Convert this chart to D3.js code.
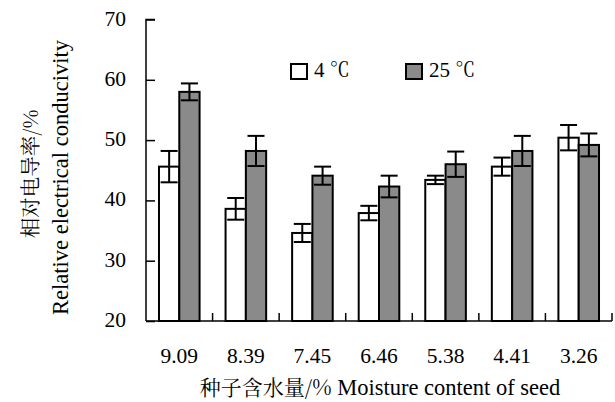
<!DOCTYPE html>
<html><head><meta charset="utf-8">
<script src="https://cdn.jsdelivr.net/npm/d3@7"></script>
<style>body{margin:0;background:#fff}svg{display:block}</style>
</head><body>
<svg id="c" width="615" height="402"></svg>
<script>
const categories = ["9.09","8.39","7.45","6.46","5.38","4.41","3.26"];
const seriesNames = ["4","25"];
const unit = "℃";
const values4 = [45.6, 38.6, 34.6, 37.9, 43.4, 45.6, 50.4];
const err4 = [2.6, 1.8, 1.5, 1.2, 0.7, 1.5, 2.1];
const values25 = [58.0, 48.2, 44.1, 42.3, 46.0, 48.2, 49.2];
const err25 = [1.4, 2.5, 1.5, 1.8, 2.1, 2.5, 1.9];
const yTicks = [20,30,40,50,60,70];
const colors = ["#ffffff","#8a8a8a"];

const SERIF = '"Liberation Serif"';
const CJK = '"Noto Serif CJK SC"';
const svg = d3.select("#c");
const L = 146, R = 612, T = 19.5, B = 321;
const x = d3.scaleBand().domain(categories).range([L, R]).padding(0);
const xs = d3.scaleBand().domain([0,1]).range([0, x.bandwidth()]).paddingInner(0).paddingOuter(0.64);
const y = d3.scaleLinear().domain([20,70]).range([B, T]);

const data = categories.map((c,i)=>[
  {c, s:0, v:values4[i], e:err4[i]},
  {c, s:1, v:values25[i], e:err25[i]}
]).flat();

svg.append("g").selectAll("rect").data(data).join("rect")
  .attr("x", d=>x(d.c)+xs(d.s))
  .attr("y", d=>y(d.v))
  .attr("width", xs.bandwidth())
  .attr("height", d=>B-y(d.v))
  .attr("fill", d=>colors[d.s])
  .attr("stroke","#000").attr("stroke-width",2);

const eg = svg.append("g").attr("stroke","#000").attr("stroke-width",2).attr("fill","none");
data.forEach(d=>{
  const cx = x(d.c)+xs(d.s)+xs.bandwidth()/2;
  const hw = 8.5;
  eg.append("line").attr("x1",cx).attr("x2",cx).attr("y1",y(d.v+d.e)).attr("y2",y(d.v-d.e));
  eg.append("line").attr("x1",cx-hw).attr("x2",cx+hw).attr("y1",y(d.v+d.e)).attr("y2",y(d.v+d.e));
  eg.append("line").attr("x1",cx-hw).attr("x2",cx+hw).attr("y1",y(d.v-d.e)).attr("y2",y(d.v-d.e));
});

const yAxis = d3.axisRight(y).tickValues(yTicks).tickSize(9).tickFormat("");
const ya = svg.append("g").attr("transform",`translate(${L},0)`).call(yAxis);
ya.select(".domain").attr("stroke","#000").attr("stroke-width",1.5).attr("d",`M9,${T}H0V${B}`);
ya.selectAll(".tick line").attr("stroke","#000").attr("stroke-width",1.5);
svg.append("g").selectAll("text").data(yTicks).join("text")
  .attr("x",126).attr("y",d=>y(d)+6).attr("text-anchor","end")
  .style("font-family",SERIF).style("font-size","21.5px").text(d=>d);

const xa = svg.append("g").attr("transform",`translate(0,${B})`);
xa.append("line").attr("x1",L).attr("x2",R).attr("stroke","#000").attr("stroke-width",1.5);
xa.selectAll("line.tk").data(categories).join("line").attr("class","tk")
  .attr("x1",d=>x(d)+x.bandwidth()).attr("x2",d=>x(d)+x.bandwidth())
  .attr("y1",0).attr("y2",-8).attr("stroke","#000").attr("stroke-width",1.5);
svg.append("g").selectAll("text").data(categories).join("text")
  .attr("x",d=>x(d)+x.bandwidth()/2).attr("y",363).attr("text-anchor","middle")
  .style("font-family",SERIF).style("font-size","21.5px").text(d=>d);

const xt = svg.append("text").attr("x",380).attr("y",395).attr("text-anchor","middle")
  .style("font-family",SERIF).style("font-size","22.5px");
xt.append("tspan").style("font-family",CJK).style("font-size","21px").text("种子含水量/%");
xt.append("tspan").text("  Moisture content of seed");

svg.append("text").attr("transform","translate(38,174) rotate(-90)").attr("text-anchor","middle")
  .style("font-family",CJK).style("font-size","20.5px").text("相对电导率/%");
svg.append("text").attr("transform","translate(68,177.5) rotate(-90)").attr("text-anchor","middle")
  .style("font-family",SERIF).style("font-size","22.5px").text("Relative electrical conducivity");

const lg = svg.append("g");
const lx = [291, 406];
seriesNames.forEach((n,i)=>{
  lg.append("rect").attr("x",lx[i]).attr("y",64).attr("width",16).attr("height",15)
    .attr("fill",colors[i]).attr("stroke","#000").attr("stroke-width",2);
  const t = lg.append("text").attr("x",lx[i]+23).attr("y",77).style("font-family",SERIF).style("font-size","21px");
  t.append("tspan").text(n + " ");
  t.append("tspan").style("font-family",CJK).style("font-size","20px").text(unit);
});
</script>
</body></html>
